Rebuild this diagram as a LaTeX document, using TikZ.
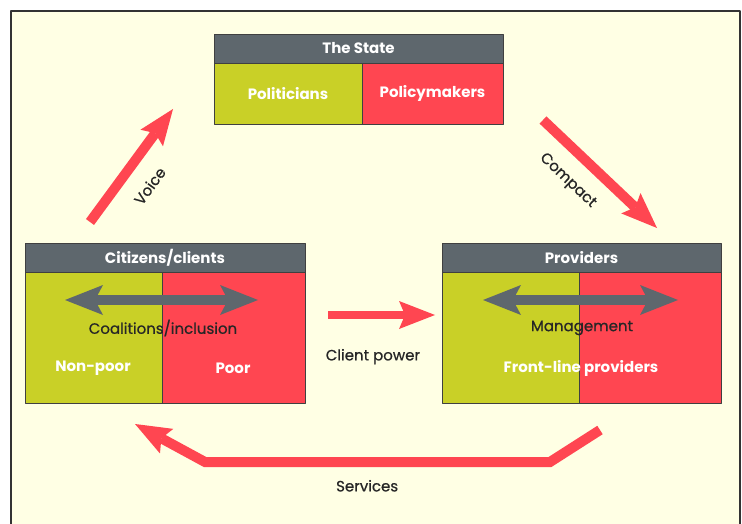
\documentclass[tikz,border=0pt]{standalone}
\usepackage{fontspec}
\setmainfont{Poppins}
\newfontfamily\medfont[FakeBold=0.7]{Poppins}
\usetikzlibrary{arrows.meta,positioning}
\definecolor{cream}{HTML}{FFFFE4}
\definecolor{slate}{HTML}{5E676D}
\definecolor{olivebox}{HTML}{C9D027}
\definecolor{redbox}{HTML}{FF4651}
\begin{document}
\begin{tikzpicture}[x=1pt,y=-1pt, line join=round,
	hdr/.style={rectangle, draw=black!75, line width=0.8pt, fill=slate, text=white, font=\bfseries\fontsize{15}{17}\selectfont, minimum height=29pt, inner sep=0pt, outer sep=0pt},
	half/.style={rectangle, draw=black!75, line width=0.8pt, inner sep=0pt, outer sep=0pt, text=white, font=\bfseries\fontsize{15}{17}\selectfont},
	wlbl/.style={text=white, font=\bfseries\fontsize{15}{17}\selectfont, inner sep=0pt},
	dlbl/.style={text=black!85, font=\medfont\fontsize{15}{17}\selectfont, inner sep=0pt},
	redarr/.style={draw=redbox, line width=10pt, line join=miter, -{Stealth[length=36pt,width=28pt,inset=6pt,line width=0pt]}},
	grayarr/.style={draw=slate, line width=10pt, {Stealth[length=38pt,width=30pt,inset=8pt,line width=0pt]}-{Stealth[length=38pt,width=30pt,inset=8pt,line width=0pt]}}]
	\clip (0,0) rectangle (742,524);
	\fill[white] (0,0) rectangle (742,524);
	\draw[line width=1.6pt, draw=black!80, fill=cream] (11,11) rectangle (740,560);
	% the state
	\node[hdr, minimum width=289pt, anchor=north west] (state) at (214,34) {The State};
	\node[half, fill=olivebox, minimum width=148pt, minimum height=61pt, below right=0pt and 0pt of state.south west] (pol) {Politicians};
	\node[half, fill=redbox, minimum width=141pt, minimum height=61pt, right=0pt of pol] (pmk) {Policymakers};
	% citizens
	\node[hdr, minimum width=280pt, anchor=north west] (cit) at (25,243) {Citizens/clients};
	\node[half, fill=olivebox, minimum width=137pt, minimum height=131pt, below right=0pt and 0pt of cit.south west] (npoor) {};
	\node[half, fill=redbox, minimum width=143pt, minimum height=131pt, right=0pt of npoor] (poor) {};
	\node[wlbl] (nptxt) at (93,368) {Non-poor};
	\node[wlbl] (ptxt) at (233,368) {Poor};
	\coordinate (ca) at (65,300); \coordinate (cb) at (258,300);
	\draw[grayarr] (ca) -- (cb);
	\node[dlbl] (coal) at (163,328) {Coalitions/inclusion};
	% providers
	\node[hdr, minimum width=279pt, anchor=north west] (prov) at (442,243) {Providers};
	\node[half, fill=olivebox, minimum width=137pt, minimum height=131pt, below right=0pt and 0pt of prov.south west] (pl) {};
	\node[half, fill=redbox, minimum width=142pt, minimum height=131pt, right=0pt of pl] (pr) {};
	\node[wlbl] (fltxt) at (581,368) {Front-line providers};
	\coordinate (pa) at (483,300); \coordinate (pb) at (678,300);
	\draw[grayarr] (pa) -- (pb);
	\node[dlbl] (mgmt) at (582,328) {Management};
	% accountability arrows
	\coordinate (v1) at (90,222); \coordinate (v2) at (173,109);
	\coordinate (k1) at (543,120); \coordinate (k2) at (657,228);
	\coordinate (c1) at (328,315); \coordinate (c2) at (435,315);
	\coordinate (s1) at (600,430); \coordinate (s2) at (550,462);
	\coordinate (s3) at (205,462); \coordinate (s4) at (135,424);
	\draw[redarr] (v1) -- node[dlbl, sloped, below=16pt, pos=0.46]{Voice} (v2);
	\draw[redarr] (k1) -- node[dlbl, sloped, below=15pt, pos=0.38]{Compact} (k2);
	\draw[redarr, line width=8pt] (c1) -- node[dlbl, below=30pt, pos=0.42]{Client power} (c2);
	\draw[redarr] (s1) -- (s2) -- node[dlbl, below=13pt, pos=0.53]{Services} (s3) -- (s4);
\end{tikzpicture}
\end{document}
